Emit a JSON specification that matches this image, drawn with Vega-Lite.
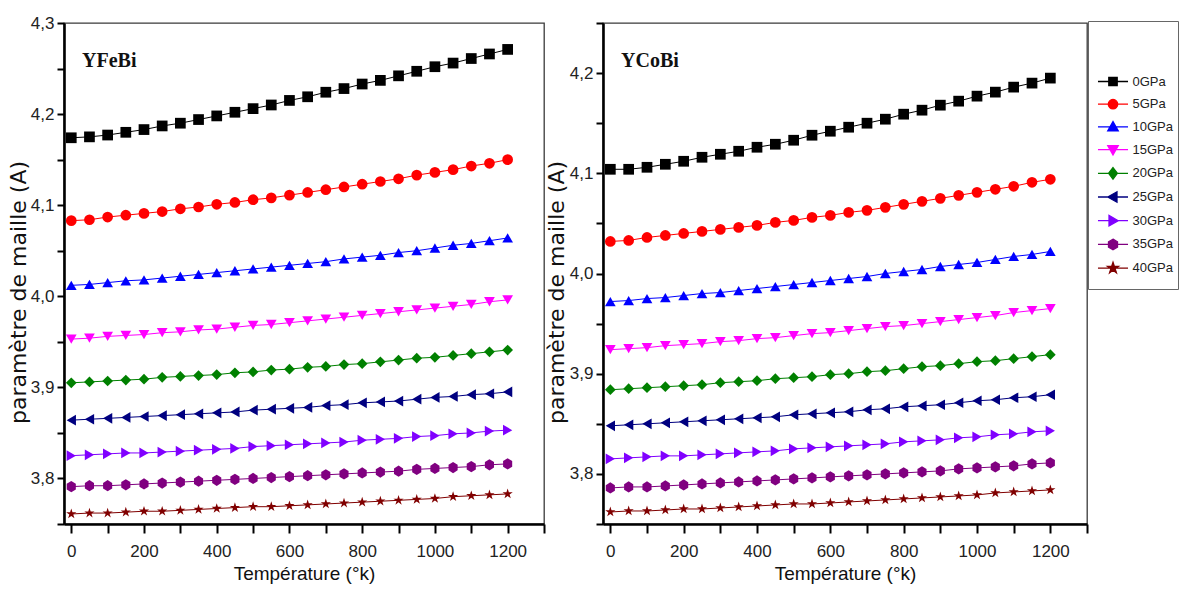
{
"$schema": "https://vega.github.io/schema/vega-lite/v6.json",
"padding": {"left": 6, "top": 13, "right": 0, "bottom": 0},
"spacing": -2,
"datasets": {
"fe": [
{"p":"0GPa","T":0,"a":4.174},{"p":"0GPa","T":50,"a":4.175},{"p":"0GPa","T":100,"a":4.177},{"p":"0GPa","T":150,"a":4.180},{"p":"0GPa","T":200,"a":4.183},{"p":"0GPa","T":250,"a":4.187},{"p":"0GPa","T":300,"a":4.190},{"p":"0GPa","T":350,"a":4.194},{"p":"0GPa","T":400,"a":4.198},{"p":"0GPa","T":450,"a":4.202},{"p":"0GPa","T":500,"a":4.206},{"p":"0GPa","T":550,"a":4.210},{"p":"0GPa","T":600,"a":4.215},{"p":"0GPa","T":650,"a":4.219},{"p":"0GPa","T":700,"a":4.224},{"p":"0GPa","T":750,"a":4.228},{"p":"0GPa","T":800,"a":4.233},{"p":"0GPa","T":850,"a":4.237},{"p":"0GPa","T":900,"a":4.242},{"p":"0GPa","T":950,"a":4.247},{"p":"0GPa","T":1000,"a":4.252},{"p":"0GPa","T":1050,"a":4.256},{"p":"0GPa","T":1100,"a":4.261},{"p":"0GPa","T":1150,"a":4.266},{"p":"0GPa","T":1200,"a":4.271},
{"p":"5GPa","T":0,"a":4.083},{"p":"5GPa","T":50,"a":4.084},{"p":"5GPa","T":100,"a":4.087},{"p":"5GPa","T":150,"a":4.089},{"p":"5GPa","T":200,"a":4.091},{"p":"5GPa","T":250,"a":4.093},{"p":"5GPa","T":300,"a":4.096},{"p":"5GPa","T":350,"a":4.098},{"p":"5GPa","T":400,"a":4.101},{"p":"5GPa","T":450,"a":4.103},{"p":"5GPa","T":500,"a":4.106},{"p":"5GPa","T":550,"a":4.108},{"p":"5GPa","T":600,"a":4.111},{"p":"5GPa","T":650,"a":4.114},{"p":"5GPa","T":700,"a":4.117},{"p":"5GPa","T":750,"a":4.120},{"p":"5GPa","T":800,"a":4.123},{"p":"5GPa","T":850,"a":4.126},{"p":"5GPa","T":900,"a":4.129},{"p":"5GPa","T":950,"a":4.133},{"p":"5GPa","T":1000,"a":4.136},{"p":"5GPa","T":1050,"a":4.139},{"p":"5GPa","T":1100,"a":4.143},{"p":"5GPa","T":1150,"a":4.146},{"p":"5GPa","T":1200,"a":4.150},
{"p":"10GPa","T":0,"a":4.012},{"p":"10GPa","T":50,"a":4.013},{"p":"10GPa","T":100,"a":4.015},{"p":"10GPa","T":150,"a":4.017},{"p":"10GPa","T":200,"a":4.018},{"p":"10GPa","T":250,"a":4.020},{"p":"10GPa","T":300,"a":4.022},{"p":"10GPa","T":350,"a":4.024},{"p":"10GPa","T":400,"a":4.026},{"p":"10GPa","T":450,"a":4.028},{"p":"10GPa","T":500,"a":4.030},{"p":"10GPa","T":550,"a":4.032},{"p":"10GPa","T":600,"a":4.034},{"p":"10GPa","T":650,"a":4.036},{"p":"10GPa","T":700,"a":4.038},{"p":"10GPa","T":750,"a":4.041},{"p":"10GPa","T":800,"a":4.043},{"p":"10GPa","T":850,"a":4.045},{"p":"10GPa","T":900,"a":4.048},{"p":"10GPa","T":950,"a":4.050},{"p":"10GPa","T":1000,"a":4.053},{"p":"10GPa","T":1050,"a":4.056},{"p":"10GPa","T":1100,"a":4.058},{"p":"10GPa","T":1150,"a":4.061},{"p":"10GPa","T":1200,"a":4.064},
{"p":"15GPa","T":0,"a":3.953},{"p":"15GPa","T":50,"a":3.954},{"p":"15GPa","T":100,"a":3.956},{"p":"15GPa","T":150,"a":3.957},{"p":"15GPa","T":200,"a":3.958},{"p":"15GPa","T":250,"a":3.960},{"p":"15GPa","T":300,"a":3.961},{"p":"15GPa","T":350,"a":3.963},{"p":"15GPa","T":400,"a":3.964},{"p":"15GPa","T":450,"a":3.966},{"p":"15GPa","T":500,"a":3.968},{"p":"15GPa","T":550,"a":3.969},{"p":"15GPa","T":600,"a":3.971},{"p":"15GPa","T":650,"a":3.973},{"p":"15GPa","T":700,"a":3.975},{"p":"15GPa","T":750,"a":3.977},{"p":"15GPa","T":800,"a":3.979},{"p":"15GPa","T":850,"a":3.981},{"p":"15GPa","T":900,"a":3.983},{"p":"15GPa","T":950,"a":3.985},{"p":"15GPa","T":1000,"a":3.987},{"p":"15GPa","T":1050,"a":3.989},{"p":"15GPa","T":1100,"a":3.991},{"p":"15GPa","T":1150,"a":3.994},{"p":"15GPa","T":1200,"a":3.996},
{"p":"20GPa","T":0,"a":3.905},{"p":"20GPa","T":50,"a":3.906},{"p":"20GPa","T":100,"a":3.907},{"p":"20GPa","T":150,"a":3.908},{"p":"20GPa","T":200,"a":3.909},{"p":"20GPa","T":250,"a":3.911},{"p":"20GPa","T":300,"a":3.912},{"p":"20GPa","T":350,"a":3.913},{"p":"20GPa","T":400,"a":3.914},{"p":"20GPa","T":450,"a":3.916},{"p":"20GPa","T":500,"a":3.917},{"p":"20GPa","T":550,"a":3.919},{"p":"20GPa","T":600,"a":3.920},{"p":"20GPa","T":650,"a":3.922},{"p":"20GPa","T":700,"a":3.923},{"p":"20GPa","T":750,"a":3.925},{"p":"20GPa","T":800,"a":3.926},{"p":"20GPa","T":850,"a":3.928},{"p":"20GPa","T":900,"a":3.930},{"p":"20GPa","T":950,"a":3.932},{"p":"20GPa","T":1000,"a":3.933},{"p":"20GPa","T":1050,"a":3.935},{"p":"20GPa","T":1100,"a":3.937},{"p":"20GPa","T":1150,"a":3.939},{"p":"20GPa","T":1200,"a":3.941},
{"p":"25GPa","T":0,"a":3.864},{"p":"25GPa","T":50,"a":3.865},{"p":"25GPa","T":100,"a":3.866},{"p":"25GPa","T":150,"a":3.867},{"p":"25GPa","T":200,"a":3.868},{"p":"25GPa","T":250,"a":3.869},{"p":"25GPa","T":300,"a":3.870},{"p":"25GPa","T":350,"a":3.871},{"p":"25GPa","T":400,"a":3.872},{"p":"25GPa","T":450,"a":3.873},{"p":"25GPa","T":500,"a":3.875},{"p":"25GPa","T":550,"a":3.876},{"p":"25GPa","T":600,"a":3.877},{"p":"25GPa","T":650,"a":3.878},{"p":"25GPa","T":700,"a":3.880},{"p":"25GPa","T":750,"a":3.881},{"p":"25GPa","T":800,"a":3.883},{"p":"25GPa","T":850,"a":3.884},{"p":"25GPa","T":900,"a":3.885},{"p":"25GPa","T":950,"a":3.887},{"p":"25GPa","T":1000,"a":3.889},{"p":"25GPa","T":1050,"a":3.890},{"p":"25GPa","T":1100,"a":3.892},{"p":"25GPa","T":1150,"a":3.893},{"p":"25GPa","T":1200,"a":3.895},
{"p":"30GPa","T":0,"a":3.825},{"p":"30GPa","T":50,"a":3.826},{"p":"30GPa","T":100,"a":3.827},{"p":"30GPa","T":150,"a":3.828},{"p":"30GPa","T":200,"a":3.828},{"p":"30GPa","T":250,"a":3.829},{"p":"30GPa","T":300,"a":3.830},{"p":"30GPa","T":350,"a":3.831},{"p":"30GPa","T":400,"a":3.832},{"p":"30GPa","T":450,"a":3.833},{"p":"30GPa","T":500,"a":3.835},{"p":"30GPa","T":550,"a":3.836},{"p":"30GPa","T":600,"a":3.837},{"p":"30GPa","T":650,"a":3.838},{"p":"30GPa","T":700,"a":3.839},{"p":"30GPa","T":750,"a":3.840},{"p":"30GPa","T":800,"a":3.842},{"p":"30GPa","T":850,"a":3.843},{"p":"30GPa","T":900,"a":3.844},{"p":"30GPa","T":950,"a":3.846},{"p":"30GPa","T":1000,"a":3.847},{"p":"30GPa","T":1050,"a":3.849},{"p":"30GPa","T":1100,"a":3.850},{"p":"30GPa","T":1150,"a":3.852},{"p":"30GPa","T":1200,"a":3.853},
{"p":"35GPa","T":0,"a":3.791},{"p":"35GPa","T":50,"a":3.792},{"p":"35GPa","T":100,"a":3.792},{"p":"35GPa","T":150,"a":3.793},{"p":"35GPa","T":200,"a":3.794},{"p":"35GPa","T":250,"a":3.795},{"p":"35GPa","T":300,"a":3.796},{"p":"35GPa","T":350,"a":3.797},{"p":"35GPa","T":400,"a":3.798},{"p":"35GPa","T":450,"a":3.799},{"p":"35GPa","T":500,"a":3.800},{"p":"35GPa","T":550,"a":3.801},{"p":"35GPa","T":600,"a":3.802},{"p":"35GPa","T":650,"a":3.803},{"p":"35GPa","T":700,"a":3.804},{"p":"35GPa","T":750,"a":3.805},{"p":"35GPa","T":800,"a":3.806},{"p":"35GPa","T":850,"a":3.807},{"p":"35GPa","T":900,"a":3.808},{"p":"35GPa","T":950,"a":3.810},{"p":"35GPa","T":1000,"a":3.811},{"p":"35GPa","T":1050,"a":3.812},{"p":"35GPa","T":1100,"a":3.813},{"p":"35GPa","T":1150,"a":3.815},{"p":"35GPa","T":1200,"a":3.816},
{"p":"40GPa","T":0,"a":3.761},{"p":"40GPa","T":50,"a":3.762},{"p":"40GPa","T":100,"a":3.762},{"p":"40GPa","T":150,"a":3.763},{"p":"40GPa","T":200,"a":3.764},{"p":"40GPa","T":250,"a":3.764},{"p":"40GPa","T":300,"a":3.765},{"p":"40GPa","T":350,"a":3.766},{"p":"40GPa","T":400,"a":3.767},{"p":"40GPa","T":450,"a":3.768},{"p":"40GPa","T":500,"a":3.769},{"p":"40GPa","T":550,"a":3.769},{"p":"40GPa","T":600,"a":3.770},{"p":"40GPa","T":650,"a":3.771},{"p":"40GPa","T":700,"a":3.772},{"p":"40GPa","T":750,"a":3.773},{"p":"40GPa","T":800,"a":3.774},{"p":"40GPa","T":850,"a":3.775},{"p":"40GPa","T":900,"a":3.776},{"p":"40GPa","T":950,"a":3.777},{"p":"40GPa","T":1000,"a":3.778},{"p":"40GPa","T":1050,"a":3.780},{"p":"40GPa","T":1100,"a":3.781},{"p":"40GPa","T":1150,"a":3.782},{"p":"40GPa","T":1200,"a":3.783}
],
"co": [
{"p":"0GPa","T":0,"a":4.104},{"p":"0GPa","T":50,"a":4.104},{"p":"0GPa","T":100,"a":4.106},{"p":"0GPa","T":150,"a":4.109},{"p":"0GPa","T":200,"a":4.112},{"p":"0GPa","T":250,"a":4.116},{"p":"0GPa","T":300,"a":4.119},{"p":"0GPa","T":350,"a":4.122},{"p":"0GPa","T":400,"a":4.126},{"p":"0GPa","T":450,"a":4.129},{"p":"0GPa","T":500,"a":4.133},{"p":"0GPa","T":550,"a":4.138},{"p":"0GPa","T":600,"a":4.142},{"p":"0GPa","T":650,"a":4.146},{"p":"0GPa","T":700,"a":4.150},{"p":"0GPa","T":750,"a":4.154},{"p":"0GPa","T":800,"a":4.159},{"p":"0GPa","T":850,"a":4.163},{"p":"0GPa","T":900,"a":4.168},{"p":"0GPa","T":950,"a":4.172},{"p":"0GPa","T":1000,"a":4.177},{"p":"0GPa","T":1050,"a":4.181},{"p":"0GPa","T":1100,"a":4.186},{"p":"0GPa","T":1150,"a":4.190},{"p":"0GPa","T":1200,"a":4.195},
{"p":"5GPa","T":0,"a":4.032},{"p":"5GPa","T":50,"a":4.033},{"p":"5GPa","T":100,"a":4.036},{"p":"5GPa","T":150,"a":4.038},{"p":"5GPa","T":200,"a":4.040},{"p":"5GPa","T":250,"a":4.042},{"p":"5GPa","T":300,"a":4.044},{"p":"5GPa","T":350,"a":4.046},{"p":"5GPa","T":400,"a":4.048},{"p":"5GPa","T":450,"a":4.051},{"p":"5GPa","T":500,"a":4.053},{"p":"5GPa","T":550,"a":4.056},{"p":"5GPa","T":600,"a":4.058},{"p":"5GPa","T":650,"a":4.061},{"p":"5GPa","T":700,"a":4.063},{"p":"5GPa","T":750,"a":4.066},{"p":"5GPa","T":800,"a":4.069},{"p":"5GPa","T":850,"a":4.072},{"p":"5GPa","T":900,"a":4.075},{"p":"5GPa","T":950,"a":4.078},{"p":"5GPa","T":1000,"a":4.081},{"p":"5GPa","T":1050,"a":4.084},{"p":"5GPa","T":1100,"a":4.087},{"p":"5GPa","T":1150,"a":4.091},{"p":"5GPa","T":1200,"a":4.094},
{"p":"10GPa","T":0,"a":3.972},{"p":"10GPa","T":50,"a":3.973},{"p":"10GPa","T":100,"a":3.975},{"p":"10GPa","T":150,"a":3.976},{"p":"10GPa","T":200,"a":3.978},{"p":"10GPa","T":250,"a":3.980},{"p":"10GPa","T":300,"a":3.981},{"p":"10GPa","T":350,"a":3.983},{"p":"10GPa","T":400,"a":3.985},{"p":"10GPa","T":450,"a":3.987},{"p":"10GPa","T":500,"a":3.989},{"p":"10GPa","T":550,"a":3.991},{"p":"10GPa","T":600,"a":3.993},{"p":"10GPa","T":650,"a":3.995},{"p":"10GPa","T":700,"a":3.997},{"p":"10GPa","T":750,"a":4.000},{"p":"10GPa","T":800,"a":4.002},{"p":"10GPa","T":850,"a":4.004},{"p":"10GPa","T":900,"a":4.007},{"p":"10GPa","T":950,"a":4.009},{"p":"10GPa","T":1000,"a":4.011},{"p":"10GPa","T":1050,"a":4.014},{"p":"10GPa","T":1100,"a":4.017},{"p":"10GPa","T":1150,"a":4.019},{"p":"10GPa","T":1200,"a":4.022},
{"p":"15GPa","T":0,"a":3.924},{"p":"15GPa","T":50,"a":3.925},{"p":"15GPa","T":100,"a":3.926},{"p":"15GPa","T":150,"a":3.928},{"p":"15GPa","T":200,"a":3.929},{"p":"15GPa","T":250,"a":3.930},{"p":"15GPa","T":300,"a":3.932},{"p":"15GPa","T":350,"a":3.933},{"p":"15GPa","T":400,"a":3.935},{"p":"15GPa","T":450,"a":3.936},{"p":"15GPa","T":500,"a":3.938},{"p":"15GPa","T":550,"a":3.940},{"p":"15GPa","T":600,"a":3.941},{"p":"15GPa","T":650,"a":3.943},{"p":"15GPa","T":700,"a":3.945},{"p":"15GPa","T":750,"a":3.947},{"p":"15GPa","T":800,"a":3.948},{"p":"15GPa","T":850,"a":3.950},{"p":"15GPa","T":900,"a":3.952},{"p":"15GPa","T":950,"a":3.954},{"p":"15GPa","T":1000,"a":3.956},{"p":"15GPa","T":1050,"a":3.958},{"p":"15GPa","T":1100,"a":3.961},{"p":"15GPa","T":1150,"a":3.963},{"p":"15GPa","T":1200,"a":3.965},
{"p":"20GPa","T":0,"a":3.884},{"p":"20GPa","T":50,"a":3.885},{"p":"20GPa","T":100,"a":3.886},{"p":"20GPa","T":150,"a":3.887},{"p":"20GPa","T":200,"a":3.888},{"p":"20GPa","T":250,"a":3.889},{"p":"20GPa","T":300,"a":3.891},{"p":"20GPa","T":350,"a":3.892},{"p":"20GPa","T":400,"a":3.893},{"p":"20GPa","T":450,"a":3.895},{"p":"20GPa","T":500,"a":3.896},{"p":"20GPa","T":550,"a":3.897},{"p":"20GPa","T":600,"a":3.899},{"p":"20GPa","T":650,"a":3.900},{"p":"20GPa","T":700,"a":3.902},{"p":"20GPa","T":750,"a":3.903},{"p":"20GPa","T":800,"a":3.905},{"p":"20GPa","T":850,"a":3.907},{"p":"20GPa","T":900,"a":3.908},{"p":"20GPa","T":950,"a":3.910},{"p":"20GPa","T":1000,"a":3.912},{"p":"20GPa","T":1050,"a":3.913},{"p":"20GPa","T":1100,"a":3.915},{"p":"20GPa","T":1150,"a":3.917},{"p":"20GPa","T":1200,"a":3.919},
{"p":"25GPa","T":0,"a":3.848},{"p":"25GPa","T":50,"a":3.849},{"p":"25GPa","T":100,"a":3.850},{"p":"25GPa","T":150,"a":3.851},{"p":"25GPa","T":200,"a":3.852},{"p":"25GPa","T":250,"a":3.853},{"p":"25GPa","T":300,"a":3.854},{"p":"25GPa","T":350,"a":3.855},{"p":"25GPa","T":400,"a":3.856},{"p":"25GPa","T":450,"a":3.857},{"p":"25GPa","T":500,"a":3.859},{"p":"25GPa","T":550,"a":3.860},{"p":"25GPa","T":600,"a":3.861},{"p":"25GPa","T":650,"a":3.862},{"p":"25GPa","T":700,"a":3.864},{"p":"25GPa","T":750,"a":3.865},{"p":"25GPa","T":800,"a":3.867},{"p":"25GPa","T":850,"a":3.868},{"p":"25GPa","T":900,"a":3.869},{"p":"25GPa","T":950,"a":3.871},{"p":"25GPa","T":1000,"a":3.873},{"p":"25GPa","T":1050,"a":3.874},{"p":"25GPa","T":1100,"a":3.876},{"p":"25GPa","T":1150,"a":3.877},{"p":"25GPa","T":1200,"a":3.879},
{"p":"30GPa","T":0,"a":3.815},{"p":"30GPa","T":50,"a":3.816},{"p":"30GPa","T":100,"a":3.817},{"p":"30GPa","T":150,"a":3.818},{"p":"30GPa","T":200,"a":3.818},{"p":"30GPa","T":250,"a":3.819},{"p":"30GPa","T":300,"a":3.820},{"p":"30GPa","T":350,"a":3.821},{"p":"30GPa","T":400,"a":3.822},{"p":"30GPa","T":450,"a":3.823},{"p":"30GPa","T":500,"a":3.825},{"p":"30GPa","T":550,"a":3.826},{"p":"30GPa","T":600,"a":3.827},{"p":"30GPa","T":650,"a":3.828},{"p":"30GPa","T":700,"a":3.829},{"p":"30GPa","T":750,"a":3.830},{"p":"30GPa","T":800,"a":3.832},{"p":"30GPa","T":850,"a":3.833},{"p":"30GPa","T":900,"a":3.834},{"p":"30GPa","T":950,"a":3.836},{"p":"30GPa","T":1000,"a":3.837},{"p":"30GPa","T":1050,"a":3.839},{"p":"30GPa","T":1100,"a":3.840},{"p":"30GPa","T":1150,"a":3.842},{"p":"30GPa","T":1200,"a":3.843},
{"p":"35GPa","T":0,"a":3.786},{"p":"35GPa","T":50,"a":3.787},{"p":"35GPa","T":100,"a":3.787},{"p":"35GPa","T":150,"a":3.788},{"p":"35GPa","T":200,"a":3.789},{"p":"35GPa","T":250,"a":3.790},{"p":"35GPa","T":300,"a":3.791},{"p":"35GPa","T":350,"a":3.792},{"p":"35GPa","T":400,"a":3.793},{"p":"35GPa","T":450,"a":3.794},{"p":"35GPa","T":500,"a":3.795},{"p":"35GPa","T":550,"a":3.796},{"p":"35GPa","T":600,"a":3.797},{"p":"35GPa","T":650,"a":3.798},{"p":"35GPa","T":700,"a":3.799},{"p":"35GPa","T":750,"a":3.800},{"p":"35GPa","T":800,"a":3.801},{"p":"35GPa","T":850,"a":3.802},{"p":"35GPa","T":900,"a":3.803},{"p":"35GPa","T":950,"a":3.805},{"p":"35GPa","T":1000,"a":3.806},{"p":"35GPa","T":1050,"a":3.807},{"p":"35GPa","T":1100,"a":3.808},{"p":"35GPa","T":1150,"a":3.810},{"p":"35GPa","T":1200,"a":3.811},
{"p":"40GPa","T":0,"a":3.762},{"p":"40GPa","T":50,"a":3.763},{"p":"40GPa","T":100,"a":3.763},{"p":"40GPa","T":150,"a":3.764},{"p":"40GPa","T":200,"a":3.765},{"p":"40GPa","T":250,"a":3.765},{"p":"40GPa","T":300,"a":3.766},{"p":"40GPa","T":350,"a":3.767},{"p":"40GPa","T":400,"a":3.768},{"p":"40GPa","T":450,"a":3.769},{"p":"40GPa","T":500,"a":3.770},{"p":"40GPa","T":550,"a":3.770},{"p":"40GPa","T":600,"a":3.771},{"p":"40GPa","T":650,"a":3.772},{"p":"40GPa","T":700,"a":3.773},{"p":"40GPa","T":750,"a":3.774},{"p":"40GPa","T":800,"a":3.775},{"p":"40GPa","T":850,"a":3.776},{"p":"40GPa","T":900,"a":3.777},{"p":"40GPa","T":950,"a":3.778},{"p":"40GPa","T":1000,"a":3.779},{"p":"40GPa","T":1050,"a":3.781},{"p":"40GPa","T":1100,"a":3.782},{"p":"40GPa","T":1150,"a":3.783},{"p":"40GPa","T":1200,"a":3.784}
]
},
"hconcat": [
{
"width": 480, "height": 501,
"data": {"name": "fe"},
"title": {"text": "YFeBi", "anchor": "start", "frame": "group", "font": "Liberation Serif", "fontSize": 20, "fontWeight": "bold", "color": "#111111", "offset": 0, "baseline": "alphabetic", "dx": 18, "dy": 73},
"encoding": {
"x": {"field": "T", "type": "quantitative", "scale": {"domain": [-20, 1300], "nice": false, "zero": false},
 "axis": {"title": "Température (°k)", "values": [0,100,200,300,400,500,600,700,800,900,1000,1100,1200,1300], "format": "d", "labelExpr": "datum.value % 200 == 0 && datum.value < 1300 ? datum.label : ''", "tickSize": 9, "labelPadding": 10, "titleY": 40, "titleBaseline": "top", "labelFlush": false, "labelOverlap": false,
 "encode": {"ticks": {"update": {"y2": {"signal": "datum.value % 200 == 0 ? 10 : 6"}}}}}},
"y": {"field": "a", "type": "quantitative", "scale": {"domain": [3.75, 4.3], "nice": false, "zero": false},
 "axis": {"title": "paramètre de maille (A)", "values": [3.75,3.8,3.85,3.9,3.95,4.0,4.05,4.1,4.15,4.2,4.25,4.3], "labelExpr": "abs(datum.value*10-round(datum.value*10))<0.001 ? replace(format(datum.value,'.1f'),'.',',') : ''", "tickSize": 7, "labelPadding": 3, "titleFont": "DejaVu Sans", "titleFontSize": 22, "titleX": -34, "titleY": 269, "titleAlign": "center", "titleBaseline": "bottom", "labelFlush": false, "labelOverlap": false,
 "encode": {"ticks": {"update": {"x2": {"signal": "abs(datum.value*10-round(datum.value*10))<0.001 ? -7 : -4"}}}}}},
"color": {"field": "p", "type": "nominal",
 "scale": {"domain": ["0GPa","5GPa","10GPa","15GPa","20GPa","25GPa","30GPa","35GPa","40GPa"], "range": ["#000000","#ff0000","#0000ff","#ff00ff","#008000","#000080","#8000ff","#800080","#800000"]},
 "legend": null}
},
"layer": [
{"mark": {"type": "line", "strokeWidth": 1}, "encoding": {}},
{"mark": {"type": "point", "filled": true, "opacity": 1, "size": 115},
 "encoding": {"shape": {"field": "p", "type": "nominal",
  "scale": {"domain": ["0GPa","5GPa","10GPa","15GPa","20GPa","25GPa","30GPa","35GPa","40GPa"], "range": ["square","circle","triangle-up","triangle-down","diamond","triangle-left","triangle-right","M0,-1.05L0.85,-0.52V0.52L0,1.05L-0.85,0.52V-0.52Z","M0,-1L0.2245,-0.309L0.951,-0.309L0.3633,0.118L0.5878,0.809L0,0.382L-0.5878,0.809L-0.3633,0.118L-0.951,-0.309L-0.2245,-0.309Z"]},
  "legend": null}}}
]
},
{
"width": 484, "height": 501,
"data": {"name": "co"},
"title": {"text": "YCoBi", "anchor": "start", "frame": "group", "font": "Liberation Serif", "fontSize": 20, "fontWeight": "bold", "color": "#111111", "offset": 0, "baseline": "alphabetic", "dx": 18, "dy": 73},
"encoding": {
"x": {"field": "T", "type": "quantitative", "scale": {"domain": [-20, 1300], "nice": false, "zero": false},
 "axis": {"title": "Température (°k)", "values": [0,100,200,300,400,500,600,700,800,900,1000,1100,1200,1300], "format": "d", "labelExpr": "datum.value % 200 == 0 && datum.value < 1300 ? datum.label : ''", "tickSize": 9, "labelPadding": 10, "titleY": 40, "titleBaseline": "top", "labelFlush": false, "labelOverlap": false,
 "encode": {"ticks": {"update": {"y2": {"signal": "datum.value % 200 == 0 ? 10 : 6"}}}}}},
"y": {"field": "a", "type": "quantitative", "scale": {"domain": [3.75, 4.25], "nice": false, "zero": false},
 "axis": {"title": "paramètre de maille (A)", "values": [3.75,3.8,3.85,3.9,3.95,4.0,4.05,4.1,4.15,4.2,4.25], "labelExpr": "abs(datum.value*10-round(datum.value*10))<0.001 ? replace(format(datum.value,'.1f'),'.',',') : ''", "tickSize": 7, "labelPadding": 3, "titleFont": "DejaVu Sans", "titleFontSize": 22, "titleX": -35, "titleY": 269, "titleAlign": "center", "titleBaseline": "bottom", "labelFlush": false, "labelOverlap": false,
 "encode": {"ticks": {"update": {"x2": {"signal": "abs(datum.value*10-round(datum.value*10))<0.001 ? -7 : -4"}}}}}},
"color": {"field": "p", "type": "nominal",
 "scale": {"domain": ["0GPa","5GPa","10GPa","15GPa","20GPa","25GPa","30GPa","35GPa","40GPa"], "range": ["#000000","#ff0000","#0000ff","#ff00ff","#008000","#000080","#8000ff","#800080","#800000"]},
 "legend": null}
},
"layer": [
{"mark": {"type": "line", "strokeWidth": 1}, "encoding": {}},
{"mark": {"type": "point", "filled": true, "opacity": 1, "size": 115},
 "encoding": {"shape": {"field": "p", "type": "nominal",
  "scale": {"domain": ["0GPa","5GPa","10GPa","15GPa","20GPa","25GPa","30GPa","35GPa","40GPa"], "range": ["square","circle","triangle-up","triangle-down","diamond","triangle-left","triangle-right","M0,-1.05L0.85,-0.52V0.52L0,1.05L-0.85,0.52V-0.52Z","M0,-1L0.2245,-0.309L0.951,-0.309L0.3633,0.118L0.5878,0.809L0,0.382L-0.5878,0.809L-0.3633,0.118L-0.951,-0.309L-0.2245,-0.309Z"]},
  "legend": null}}}
]
},
{
"width": 1, "height": 1,
"view": {"stroke": null},
"data": {"name": "fe"},
"transform": [{"filter": "datum.T < 0"}],
"mark": {"type": "point", "filled": true},
"encoding": {
"fill": {"field": "p", "type": "nominal",
 "scale": {"domain": ["0GPa","5GPa","10GPa","15GPa","20GPa","25GPa","30GPa","35GPa","40GPa"], "range": ["#000000","#ff0000","#0000ff","#ff00ff","#008000","#000080","#8000ff","#800080","#800000"]},
 "legend": {"title": " ", "titleFontSize": 20, "titlePadding": 24, "orient": "none", "legendX": -4, "legendY": -2, "padding": 5, "strokeColor": "#666666", "symbolSize": 441, "symbolStrokeWidth": 1.3, "symbolOpacity": 1, "symbolOffset": 8.5, "labelOffset": 8, "rowPadding": 3.7, "labelFont": "Liberation Sans", "labelFontSize": 13, "labelColor": "#222222"}},
"stroke": {"field": "p", "type": "nominal",
 "scale": {"domain": ["0GPa","5GPa","10GPa","15GPa","20GPa","25GPa","30GPa","35GPa","40GPa"], "range": ["#000000","#ff0000","#0000ff","#ff00ff","#008000","#000080","#8000ff","#800080","#800000"]},
 "legend": {"title": " ", "titleFontSize": 20, "titlePadding": 24, "orient": "none", "legendX": -4, "legendY": -2, "padding": 5, "strokeColor": "#666666", "symbolSize": 441, "symbolStrokeWidth": 1.3, "symbolOpacity": 1, "symbolOffset": 8.5, "labelOffset": 8, "rowPadding": 3.7, "labelFont": "Liberation Sans", "labelFontSize": 13, "labelColor": "#222222"}},
"shape": {"field": "p", "type": "nominal",
 "scale": {"domain": ["0GPa","5GPa","10GPa","15GPa","20GPa","25GPa","30GPa","35GPa","40GPa"], "range": ["M-1.43,0H1.43M-0.4,-0.4H0.4V0.4H-0.4Z","M-1.43,0H1.43M0.45,0A0.45,0.45,0,1,1,-0.45,0A0.45,0.45,0,1,1,0.45,0Z","M-1.43,0H1.43M0,-0.5L0.5,0.38H-0.5Z","M-1.43,0H1.43M0,0.5L0.5,-0.38H-0.5Z","M-1.43,0H1.43M0,-0.55L0.42,0L0,0.55L-0.42,0Z","M-1.43,0H1.43M-0.5,0L0.38,-0.5V0.5Z","M-1.43,0H1.43M0.5,0L-0.38,-0.5V0.5Z","M-1.43,0H1.43M0,-0.5L0.43,-0.25V0.25L0,0.5L-0.43,0.25V-0.25Z","M-1.43,0H1.43M0,-0.55L0.1235,-0.17L0.523,-0.17L0.1998,0.0649L0.3233,0.445L0,0.2101L-0.3233,0.445L-0.1998,0.0649L-0.523,-0.17L-0.1235,-0.17ZM0,1.2"]},
 "legend": {"title": " ", "titleFontSize": 20, "titlePadding": 24, "orient": "none", "legendX": -4, "legendY": -2, "padding": 5, "strokeColor": "#666666", "symbolSize": 441, "symbolStrokeWidth": 1.3, "symbolOpacity": 1, "symbolOffset": 8.5, "labelOffset": 8, "rowPadding": 3.7, "labelFont": "Liberation Sans", "labelFontSize": 13, "labelColor": "#222222"}}
}
}
],
"resolve": {"scale": {"color": "independent", "shape": "independent", "fill": "independent", "stroke": "independent", "y": "independent", "x": "independent"}},
"config": {
"view": {"stroke": "#3a3a3a", "strokeWidth": 1.3},
"axis": {"domainColor": "#000000", "domainWidth": 2.6, "tickColor": "#000000", "tickWidth": 2, "grid": false, "labelFont": "Liberation Sans", "labelFontSize": 17, "labelColor": "#222222", "titleFont": "Liberation Sans", "titleFontSize": 19, "titleFontWeight": "normal", "titleColor": "#111111"}
}
}
